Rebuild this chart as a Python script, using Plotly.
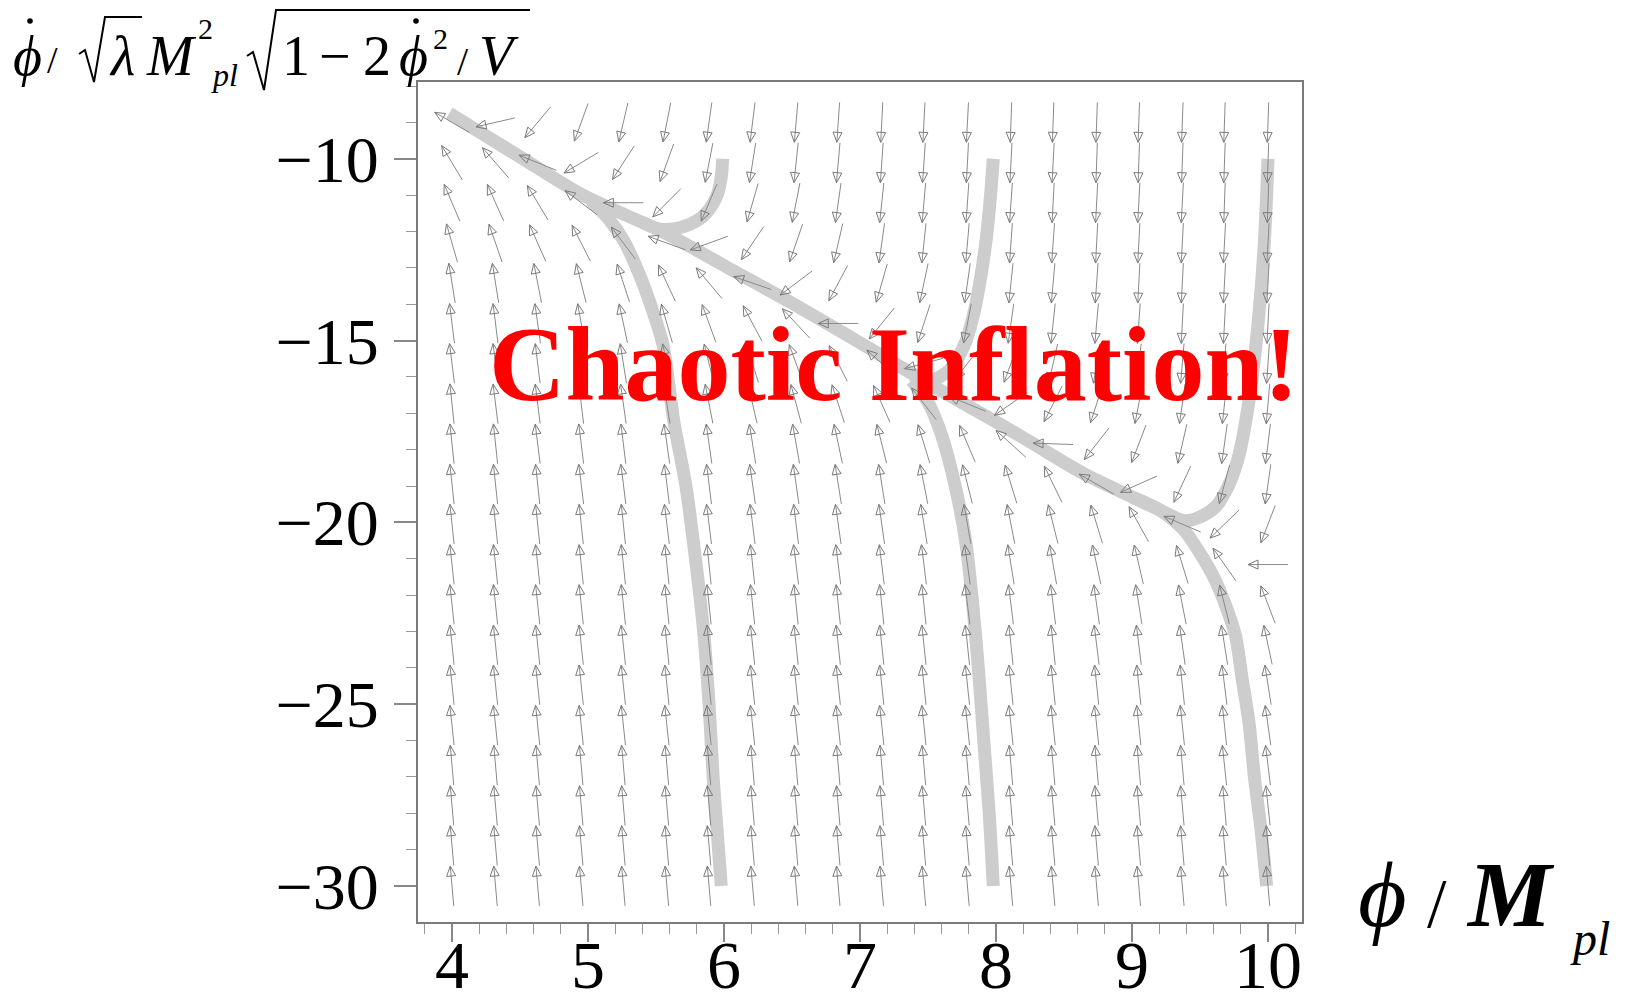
import math
import plotly.graph_objects as go

# ---------------- data ----------------
# arrow grid (phi / M_pl columns, phidot rows from top to bottom)
phi_grid = [4.0, 4.32, 4.63, 4.95, 5.26, 5.58, 5.89, 6.21, 6.53, 6.84,
            7.16, 7.47, 7.79, 8.11, 8.42, 8.74, 9.05, 9.37, 9.68, 10.0]
phidot_grid = [-9.0, -10.11, -11.21, -12.32, -13.42, -14.53, -15.63, -16.74, -17.84, -18.95,
               -20.05, -21.16, -22.26, -23.37, -24.47, -25.58, -26.68, -27.79, -28.89, -30.0]
# arrow direction on screen in degrees (0 = right, 90 = up, 180 = left, 270 = down)
arrow_angle_deg = [
    [150, 193, 230, 250, 257, 259, 262, 263, 265, 266, 267, 267, 267, 268, 268, 268, 268, 268, 268, 268],
    [121, 131, 158, 211, 237, 250, 259, 261, 264, 265, 266, 266, 267, 267, 267, 268, 268, 268, 268, 268],
    [113, 114, 121, 143, 180, 225, 247, 254, 259, 262, 264, 265, 266, 266, 267, 267, 267, 267, 268, 268],
    [106, 109, 114, 117, 127, 160, 200, 236, 251, 257, 262, 264, 265, 266, 266, 267, 267, 267, 267, 267],
    [99, 99, 101, 104, 108, 115, 130, 161, 217, 242, 254, 258, 262, 264, 265, 266, 267, 267, 267, 267],
    [97, 97, 98, 100, 102, 106, 110, 118, 133, 180, 231, 252, 259, 262, 264, 265, 266, 267, 267, 267],
    [97, 97, 97, 98, 99, 102, 104, 107, 110, 117, 138, 195, 232, 250, 257, 261, 263, 265, 266, 266],
    [96, 97, 97, 97, 98, 99, 101, 103, 105, 108, 114, 128, 158, 215, 243, 252, 259, 262, 264, 265],
    [96, 96, 97, 97, 97, 98, 98, 99, 100, 102, 104, 107, 113, 138, 178, 232, 249, 257, 262, 263],
    [96, 96, 96, 97, 97, 97, 97, 98, 98, 99, 99, 101, 104, 107, 116, 150, 204, 245, 255, 262],
    [96, 96, 96, 96, 96, 97, 97, 97, 97, 98, 98, 99, 100, 101, 104, 107, 119, 157, 224, 249],
    [96, 96, 96, 96, 96, 96, 96, 96, 97, 97, 97, 97, 98, 99, 100, 102, 103, 107, 125, 180],
    [96, 96, 96, 96, 96, 96, 96, 96, 96, 96, 96, 96, 97, 97, 97, 98, 99, 101, 104, 111],
    [96, 96, 96, 96, 96, 96, 96, 96, 96, 96, 96, 96, 96, 96, 96, 97, 97, 98, 99, 102],
    [96, 96, 96, 96, 96, 96, 96, 96, 96, 96, 96, 96, 96, 96, 96, 96, 96, 96, 97, 99],
    [96, 96, 96, 96, 96, 96, 96, 96, 96, 96, 96, 96, 96, 96, 96, 96, 96, 96, 96, 98],
    [95, 95, 95, 95, 95, 95, 95, 95, 95, 95, 95, 95, 95, 95, 95, 95, 95, 95, 96, 97],
    [95, 95, 95, 95, 95, 95, 95, 95, 95, 95, 95, 95, 95, 95, 95, 95, 95, 95, 95, 96],
    [95, 95, 95, 95, 95, 95, 95, 95, 95, 95, 95, 95, 95, 95, 95, 95, 95, 95, 95, 95],
    [95, 95, 95, 95, 95, 95, 95, 95, 95, 95, 95, 95, 95, 95, 95, 95, 95, 95, 95, 95],
]

# thick gray trajectories
traj1_phi = [5.99, 5.98, 5.95, 5.9, 5.84, 5.75, 5.64, 5.52, 5.40]
traj1_dot = [-10.0, -10.5, -11.0, -11.35, -11.6, -11.8, -11.92, -11.93, -11.75]
traj2_phi = [10.0, 9.99, 9.97, 9.94, 9.9, 9.85, 9.79, 9.72, 9.62, 9.5, 9.38, 9.2, 9.0,
             8.64, 8.27, 8.03, 7.56, 6.95, 6.49, 6.03, 5.57, 4.96, 4.5, 3.98]
traj2_dot = [-10.0, -11.0, -12.5, -14.0, -15.5, -16.9, -18.1, -18.9, -19.55, -19.85, -19.95, -19.65, -19.3,
             -18.65, -17.83, -17.3, -16.3, -14.95, -13.95, -13.0, -12.05, -11.0, -9.95, -8.75]
traj3_phi = [7.98, 7.96, 7.93, 7.89, 7.84, 7.77, 7.66, 7.52, 7.38]
traj3_dot = [-10.0, -11.0, -12.15, -13.2, -14.2, -15.1, -15.8, -16.1, -15.95]
traj4_phi = [7.98, 7.95, 7.91, 7.87, 7.83, 7.78, 7.7, 7.6, 7.5, 7.38]
traj4_dot = [-30.0, -28.0, -26.0, -24.0, -22.3, -20.6, -19.0, -17.6, -16.7, -16.1]
traj5_phi = [5.98, 5.95, 5.92, 5.89, 5.85, 5.79, 5.72, 5.63, 5.55, 5.45, 5.38, 5.27, 5.15, 5.02]
traj5_dot = [-30.0, -28.5, -27.0, -25.0, -23.0, -21.0, -19.0, -17.2, -15.1, -13.9, -13.2, -12.3, -11.65, -11.15]
traj6_phi = [9.99, 9.95, 9.9, 9.86, 9.81, 9.76, 9.68, 9.6, 9.5, 9.38, 9.2, 9.0]
traj6_dot = [-30.0, -28.5, -27.0, -25.5, -24.3, -23.1, -22.2, -21.5, -20.85, -20.2, -19.65, -19.3]

x_tick_vals = [4, 5, 6, 7, 8, 9, 10]
x_tick_text = ["4", "5", "6", "7", "8", "9", "10"]
y_tick_vals = [-30, -25, -20, -15, -10]
y_tick_text = ["\u221230", "\u221225", "\u221220", "\u221215", "\u221210"]

# ---------------- layout geometry ----------------
W, H = 1631, 1008
ML, MR, MT, MB = 418, 329, 82, 86
X_RANGE = [3.75, 10.25]
Y_RANGE = [-30.99, -7.89]
PW, PH = W - ML - MR, H - MT - MB
SX = PW / (X_RANGE[1] - X_RANGE[0])
SY = PH / (Y_RANGE[1] - Y_RANGE[0])


def px(X):
    return (X - ML) / PW


def py(Y):
    return (H - MB - Y) / PH


fig = go.Figure()

BAND = dict(color="#cdcdcd", width=13, shape="spline", smoothing=0.8)
for tx, ty in [(traj2_phi, traj2_dot), (traj1_phi, traj1_dot), (traj3_phi, traj3_dot),
               (traj4_phi, traj4_dot), (traj5_phi, traj5_dot), (traj6_phi, traj6_dot)]:
    fig.add_trace(go.Scatter(x=tx, y=ty, mode="lines", line=BAND,
                             hoverinfo="skip", showlegend=False))

# arrows
L, HL, HW = 40.0, 10.0, 4.5
sh_x, sh_y, hd_x, hd_y = [], [], [], []
for r, yv in enumerate(phidot_grid):
    for c, xv in enumerate(phi_grid):
        a = math.radians(arrow_angle_deg[r][c])
        ux, uy = math.cos(a), math.sin(a)
        tail = (xv - L / 2 * ux / SX, yv - L / 2 * uy / SY)
        tip = (xv + L / 2 * ux / SX, yv + L / 2 * uy / SY)
        sh_x += [tail[0], tip[0], None]
        sh_y += [tail[1], tip[1], None]
        bx, by = tip[0] - HL * ux / SX, tip[1] - HL * uy / SY
        w1 = (bx - HW * uy / SX, by + HW * ux / SY)
        w2 = (bx + HW * uy / SX, by - HW * ux / SY)
        hd_x += [tip[0], w1[0], w2[0], tip[0], None]
        hd_y += [tip[1], w1[1], w2[1], tip[1], None]

fig.add_trace(go.Scatter(x=sh_x, y=sh_y, mode="lines", line=dict(color="#8a8a8a", width=1),
                         hoverinfo="skip", showlegend=False))
fig.add_trace(go.Scatter(x=hd_x, y=hd_y, mode="lines", line=dict(color="#7a7a7a", width=1),
                         hoverinfo="skip", showlegend=False))

SERIF = "Liberation Serif, Times New Roman, serif"


def txt(text, xc, base, size, anchor="center", color="black"):
    fig.add_annotation(text=text, xref="paper", yref="paper",
                       x=px(xc), y=py(base + 0.216 * size),
                       xanchor=anchor, yanchor="bottom", showarrow=False, borderpad=0,
                       font=dict(family=SERIF, size=size, color=color))


def dot(xc, yc, r=2.8):
    fig.add_shape(type="circle", xref="paper", yref="paper", layer="above",
                  x0=px(xc - r), x1=px(xc + r), y0=py(yc + r), y1=py(yc - r),
                  fillcolor="black", line=dict(width=0))


PHI = "\u03d5"

# y-axis title pieces
txt("<i>" + PHI + "</i>", 27, 76, 56)
dot(30, 21)
txt("/", 52, 74, 38)
txt("<i>\u03bb</i>", 122, 76, 56)
txt("<i>M</i>", 171, 76, 56)
txt("2", 205, 40, 30)
txt("<i>pl</i>", 224, 87, 32)
txt("1", 296, 76, 56)
txt("\u2212", 335, 76, 56)
txt("2", 377, 76, 56)
txt("<i>" + PHI + "</i>", 413, 76, 56)
dot(416, 21)
txt("2", 440, 50, 30)
txt("/", 463, 76, 40)
txt("<i>V</i>", 499, 76, 56)


def path_px(points):
    return "M " + " L ".join("%.5f,%.5f" % (px(a), py(b)) for a, b in points)


fig.add_shape(type="path", xref="paper", yref="paper", layer="above",
              path=path_px([(79, 54), (85, 50), (94, 82), (105, 17), (142, 17)]),
              line=dict(color="black", width=2))
fig.add_shape(type="path", xref="paper", yref="paper", layer="above",
              path=path_px([(247, 56), (253, 52), (264, 90), (276, 10), (530, 10)]),
              line=dict(color="black", width=2))

# x-axis title pieces
txt("<i>" + PHI + "</i>", 1382, 927, 94)
txt("/", 1437, 928, 70)
txt("<b><i>M</i></b>", 1510, 927, 94)
txt("<i>pl</i>", 1590, 956, 48)

# red label
txt("<b>Chaotic Inflation!</b>", 894, 401, 106, color="#ff0000")

fig.update_layout(
    width=W, height=H, autosize=False,
    margin=dict(l=ML, r=MR, t=MT, b=MB, pad=0),
    plot_bgcolor="white", paper_bgcolor="white",
    showlegend=False,
    xaxis=dict(range=X_RANGE, tickvals=x_tick_vals, ticktext=x_tick_text, automargin=False,
               ticks="outside", ticklen=18, tickwidth=1.5, tickcolor="#888888",
               showline=True, linecolor="#7a7a7a", linewidth=2, mirror=True,
               showgrid=False, zeroline=False, ticklabelstandoff=-36,
               tickfont=dict(family=SERIF, size=68, color="black"),
               minor=dict(dtick=0.2, tick0=4, ticks="outside", ticklen=10,
                          tickcolor="#999999", tickwidth=1, showgrid=False)),
    yaxis=dict(range=Y_RANGE, tickvals=y_tick_vals, ticktext=y_tick_text, automargin=False,
               ticks="outside", ticklen=22, tickwidth=1.5, tickcolor="#888888",
               showline=True, linecolor="#7a7a7a", linewidth=2, mirror=True,
               showgrid=False, zeroline=False, ticklabelstandoff=2,
               tickfont=dict(family=SERIF, size=66, color="black"),
               minor=dict(dtick=1, tick0=-30, ticks="outside", ticklen=10,
                          tickcolor="#999999", tickwidth=1, showgrid=False)),
)

fig.write_html("out.html")
